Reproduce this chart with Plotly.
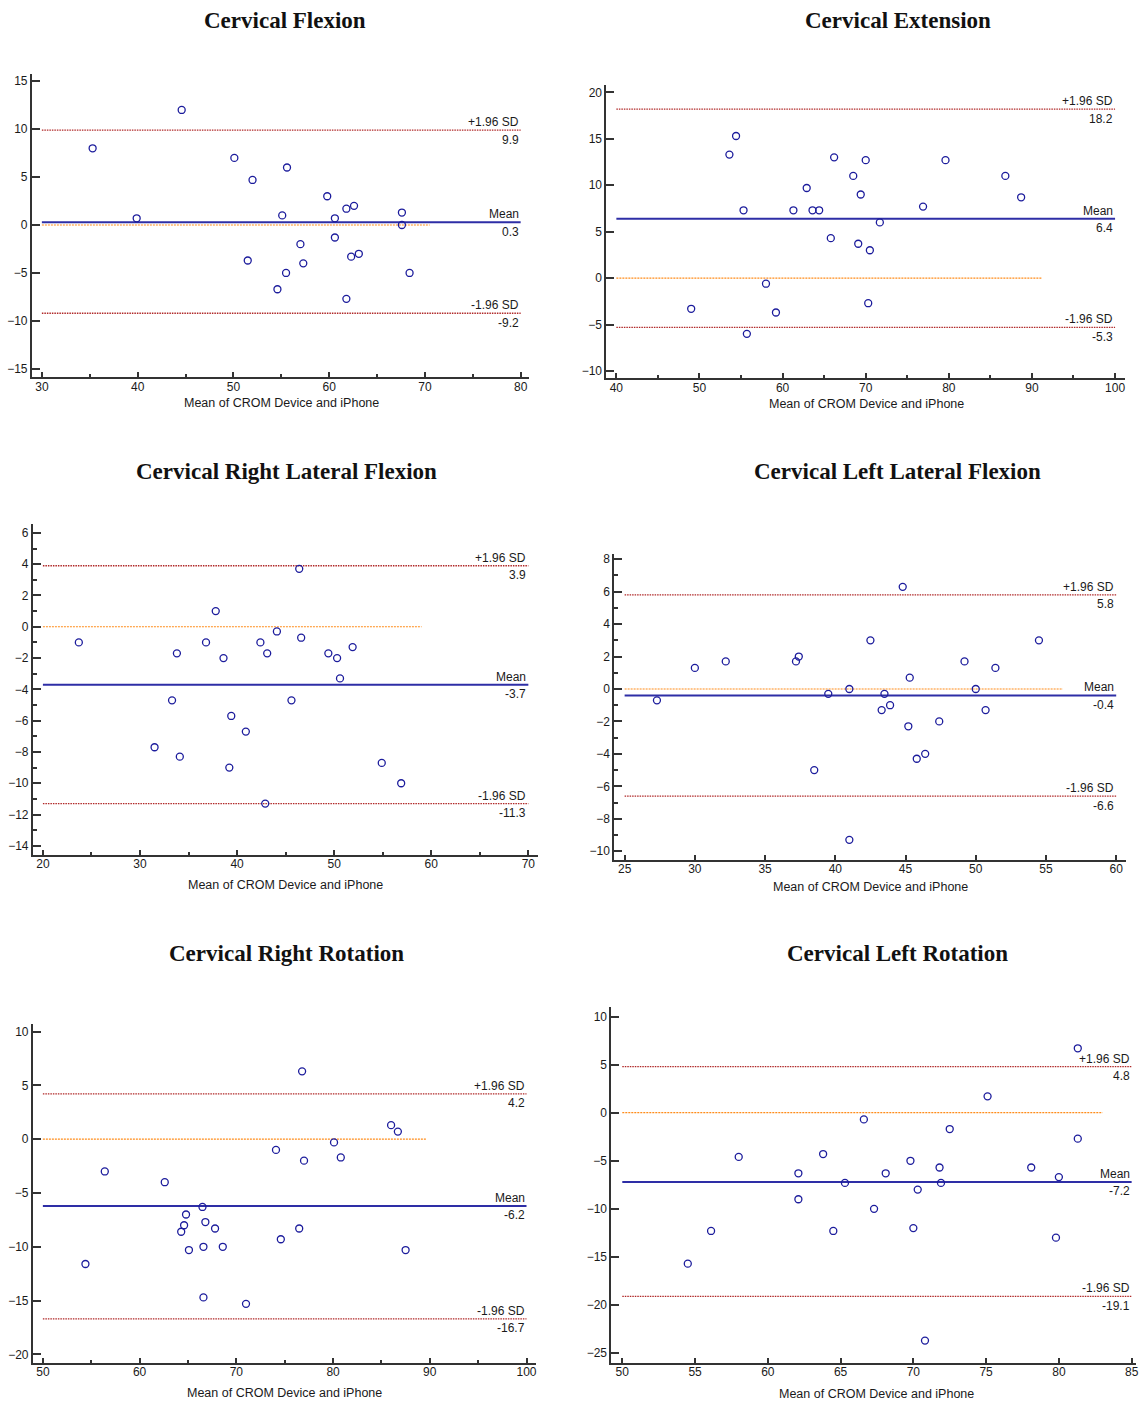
import plotly.graph_objects as go

W, H = 1139, 1406

# ---------------- data ----------------
titles = ["Cervical Flexion", "Cervical Extension",
          "Cervical Right Lateral Flexion", "Cervical Left Lateral Flexion",
          "Cervical Right Rotation", "Cervical Left Rotation"]
x_title = "Mean of CROM Device and iPhone"

flex_x = [44.6, 35.3, 39.9, 50.1, 52.0, 55.6, 55.1, 59.8, 61.8, 62.6, 60.6, 67.6, 67.6, 60.6, 57.0, 51.5, 57.3, 62.3, 63.1, 55.5, 68.4, 54.6, 61.8]
flex_y = [12.0, 8.0, 0.7, 7.0, 4.7, 6.0, 1.0, 3.0, 1.7, 2.0, 0.7, 1.3, 0.0, -1.3, -2.0, -3.7, -4.0, -3.3, -3.0, -5.0, -5.0, -6.7, -7.7]

ext_x = [54.4, 53.6, 55.3, 49.0, 55.7, 58.0, 59.2, 61.3, 62.9, 63.6, 64.4, 66.2, 65.8, 68.5, 70.0, 69.4, 69.1, 70.5, 70.3, 71.7, 76.9, 79.6, 86.8, 88.7]
ext_y = [15.3, 13.3, 7.3, -3.3, -6.0, -0.6, -3.7, 7.3, 9.7, 7.3, 7.3, 13.0, 4.3, 11.0, 12.7, 9.0, 3.7, 3.0, -2.7, 6.0, 7.7, 12.7, 11.0, 8.7]

rlf_x = [23.7, 31.5, 33.3, 33.8, 34.1, 36.8, 37.8, 38.6, 39.2, 39.4, 40.9, 42.4, 43.1, 42.9, 44.1, 45.6, 46.4, 46.6, 49.4, 50.3, 50.6, 51.9, 54.9, 56.9]
rlf_y = [-1.0, -7.7, -4.7, -1.7, -8.3, -1.0, 1.0, -2.0, -9.0, -5.7, -6.7, -1.0, -1.7, -11.3, -0.3, -4.7, 3.7, -0.7, -1.7, -2.0, -3.3, -1.3, -8.7, -10.0]

llf_x = [27.3, 30.0, 32.2, 37.2, 37.4, 38.5, 39.5, 41.0, 41.0, 42.5, 43.3, 43.5, 43.9, 44.8, 45.2, 45.3, 45.8, 46.4, 47.4, 49.2, 50.0, 50.7, 51.4, 54.5]
llf_y = [-0.7, 1.3, 1.7, 1.7, 2.0, -5.0, -0.3, 0.0, -9.3, 3.0, -1.3, -0.3, -1.0, 6.3, -2.3, 0.7, -4.3, -4.0, -2.0, 1.7, 0.0, -1.3, 1.3, 3.0]

rrot_x = [54.4, 56.4, 62.6, 64.3, 64.6, 64.8, 65.1, 66.5, 66.8, 66.6, 66.6, 67.8, 68.6, 71.0, 74.1, 74.6, 76.5, 76.8, 77.0, 80.1, 80.8, 86.0, 86.7, 87.5]
rrot_y = [-11.6, -3.0, -4.0, -8.6, -8.0, -7.0, -10.3, -6.3, -7.7, -10.0, -14.7, -8.3, -10.0, -15.3, -1.0, -9.3, -8.3, 6.3, -2.0, -0.3, -1.7, 1.3, 0.7, -10.3]

lrot_x = [54.5, 56.1, 58.0, 62.1, 62.1, 63.8, 64.5, 65.3, 66.6, 67.3, 68.1, 69.8, 70.0, 70.3, 70.8, 71.8, 71.9, 72.5, 75.1, 78.1, 79.8, 80.0, 81.3, 81.3]
lrot_y = [-15.7, -12.3, -4.6, -6.3, -9.0, -4.3, -12.3, -7.3, -0.7, -10.0, -6.3, -5.0, -12.0, -8.0, -23.7, -5.7, -7.3, -1.7, 1.7, -5.7, -13.0, -6.7, -2.7, 6.7]

means = [0.3, 6.4, -3.7, -0.4, -6.2, -7.2]
upper = [9.9, 18.2, 3.9, 5.8, 4.2, 4.8]
lower = [-9.2, -5.3, -11.3, -6.6, -16.7, -19.1]
line_span = [(30, 80), (40, 100), (20, 70), (25, 60), (50, 100), (50, 85)]
zero_end = [70.5, 91.2, 59.0, 56.2, 89.6, 83.0]

xs = [flex_x, ext_x, rlf_x, llf_x, rrot_x, lrot_x]
ys = [flex_y, ext_y, rlf_y, llf_y, rrot_y, lrot_y]

# ---------------- layout (pixel boxes) ----------------
# (x_left, x_right, y_top, y_bottom) in px
boxes = [(32, 530, 72, 376), (608, 1128, 83, 377),
         (33, 539, 523, 854), (616, 1129, 553, 859),
         (33, 537.5, 1023, 1363), (613, 1139, 1006, 1363)]
xranges = [(28.96, 80.83), (38.8, 101.2), (18.97, 70.95), (24.27, 60.7), (48.97, 100.99), (49.25, 85.3)]
yranges = [(-15.9, 15.76), (-10.8, 20.8), (-14.57, 6.55), (-10.53, 8.31), (-20.8, 10.74), (-26.04, 11.04)]
xdt = [10, 10, 10, 5, 10, 5]
xminor = [5, 5, 5, None, 5, None]
ydt = [5, 5, 2, 2, 5, 5]
yminor = [None, None, 1, 1, None, None]
title_pos = [(286, 19), (900, 19), (287, 470), (900, 470), (287, 953), (900, 953)]
xtitle_pos = [(282, 402), (869, 403), (286, 884), (873, 886), (285, 1393), (879, 1394)]

AX = "#333333"
TXT = "#1a1a1a"
SANS = "Liberation Sans, Arial, sans-serif"
SERIF = "Liberation Serif, Times New Roman, serif"
MARK = "#1c1c9c"
MEANC = "#2e2ea6"
SDC = "#b02828"
ZC = "#ff8c1a"

fig = go.Figure()
layout = dict(width=W, height=H, margin=dict(l=0, r=0, t=0, b=0),
              paper_bgcolor="white", plot_bgcolor="white", showlegend=False)
annotations = []


def fmt(v):
    return f"{v:.1f}"


for i in range(6):
    n = "" if i == 0 else str(i + 1)
    xa, ya = "x" + n, "y" + n
    xl, xr, yt, yb = boxes[i]
    xaxis = dict(domain=[xl / W, xr / W], range=list(xranges[i]), dtick=xdt[i], tick0=0,
                 showgrid=False, zeroline=False, showline=True, linecolor=AX, linewidth=2,
                 ticks="inside", ticklen=5, tickwidth=1.5, tickcolor=AX,
                 ticklabeloverflow="allow", ticklabelstandoff=-3,
                 tickfont=dict(family=SANS, size=12, color=TXT), anchor=ya, fixedrange=True)
    if xminor[i]:
        xaxis["minor"] = dict(dtick=xminor[i], tick0=0, ticks="inside", ticklen=3, tickwidth=1.5, tickcolor=AX)
    yaxis = dict(domain=[(H - yb) / H, (H - yt) / H], range=list(yranges[i]), dtick=ydt[i], tick0=0,
                 showgrid=False, zeroline=False, showline=True, linecolor=AX, linewidth=2,
                 ticks="inside", ticklen=8, tickwidth=1.5, tickcolor=AX,
                 ticklabeloverflow="allow",
                 tickfont=dict(family=SANS, size=12, color=TXT), anchor=xa, fixedrange=True)
    if yminor[i]:
        yaxis["minor"] = dict(dtick=yminor[i], tick0=0, ticks="inside", ticklen=4, tickwidth=1.5, tickcolor=AX)
    layout["xaxis" + n] = xaxis
    layout["yaxis" + n] = yaxis

    x0, x1 = line_span[i]
    # zero line
    fig.add_trace(go.Scatter(x=[x0, zero_end[i]], y=[0, 0], mode="lines", xaxis=xa, yaxis=ya,
                             line=dict(color=ZC, width=1.2, dash="2px,1px"), hoverinfo="skip"))
    # limits
    for v in (upper[i], lower[i]):
        fig.add_trace(go.Scatter(x=[x0, x1], y=[v, v], mode="lines", xaxis=xa, yaxis=ya,
                                 line=dict(color=SDC, width=1.3, dash="1.5px,1px"), hoverinfo="skip"))
    fig.add_trace(go.Scatter(x=[x0, x1], y=[means[i], means[i]], mode="lines", xaxis=xa, yaxis=ya,
                             line=dict(color=MEANC, width=2), hoverinfo="skip"))
    # points
    fig.add_trace(go.Scatter(x=xs[i], y=ys[i], mode="markers", xaxis=xa, yaxis=ya,
                             marker=dict(symbol="circle-open", size=7, color=MARK,
                                         line=dict(color=MARK, width=1.3))))
    # line labels
    for lab, v in (("+1.96 SD", upper[i]), ("Mean", means[i]), ("-1.96 SD", lower[i])):
        annotations.append(dict(x=x1, y=v, xref=xa, yref=ya, text=lab, showarrow=False,
                                xanchor="right", yanchor="middle", yshift=8,
                                font=dict(family=SANS, size=12, color=TXT)))
        annotations.append(dict(x=x1, y=v, xref=xa, yref=ya, text=fmt(v), showarrow=False,
                                xanchor="right", yanchor="middle", yshift=-9.5,
                                font=dict(family=SANS, size=12, color=TXT)))
    # titles
    tx, ty = title_pos[i]
    annotations.append(dict(x=tx / W, y=1 - ty / H, xref="paper", yref="paper", text="<b>" + titles[i] + "</b>",
                            showarrow=False, xanchor="center", yanchor="middle",
                            font=dict(family=SERIF, size=23, color="#111111")))
    ax_x, ax_y = xtitle_pos[i]
    annotations.append(dict(x=ax_x / W, y=1 - ax_y / H, xref="paper", yref="paper", text=x_title,
                            showarrow=False, xanchor="center", yanchor="middle",
                            font=dict(family=SANS, size=12.5, color=TXT)))

layout["annotations"] = annotations
fig.update_layout(**layout)
fig.write_html("out.html")
